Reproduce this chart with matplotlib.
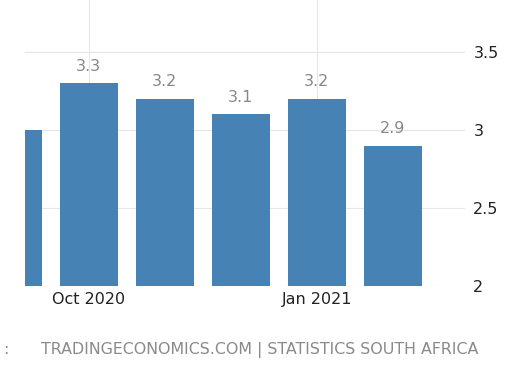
import matplotlib; matplotlib.use('Agg')
import matplotlib.pyplot as plt, numpy as np

BAR = '#4682b4'
months = ['Sep 2020', 'Oct 2020', 'Nov 2020', 'Dec 2020', 'Jan 2021', 'Feb 2021']
values = [3.0, 3.3, 3.2, 3.1, 3.2, 2.9]
tick_labels = {1: 'Oct 2020', 4: 'Jan 2021'}
yticks = [2, 2.5, 3, 3.5]

fig = plt.figure(figsize=(5.19, 3.79), dpi=100)
ax = fig.add_axes([25 / 519, 1 - 286 / 379, 440 / 519, 286 / 379])

x = np.arange(len(values))
ax.bar(x, values, width=0.77, color=BAR, zorder=3)
for xi, v in zip(x, values):
    if xi == 0:
        continue
    ax.text(xi, v + 0.06, f'{v:.1f}', ha='center', va='bottom', fontsize=11.5,
            color='#888888', zorder=4)

ax.set_xlim(0.16, 5.95)
ax.set_ylim(2, 3.833)
ax.set_xticks(list(tick_labels.keys()))
ax.set_xticklabels(list(tick_labels.values()), fontsize=11.5, color='#222222')
ax.set_yticks(yticks)
ax.set_yticklabels(['2', '2.5', '3', '3.5'], fontsize=11.5, color='#222222')
ax.yaxis.tick_right()
ax.tick_params(axis='both', length=0)
ax.tick_params(axis='y', pad=6)
ax.tick_params(axis='x', pad=4)
ax.grid(True, color='#e6e6e6', lw=0.8, zorder=0)
for s in ax.spines.values():
    s.set_visible(False)

# source line (the reference crops "SOURCE" off the left edge)
fig.text(3 / 519, 1 - 350 / 379, ':', ha='left', va='center', fontsize=11.4, color='#8a8a8a')
fig.text(478 / 519, 1 - 350 / 379, 'TRADINGECONOMICS.COM | STATISTICS SOUTH AFRICA',
         ha='right', va='center', fontsize=11.4, color='#8a8a8a')

fig.savefig('out.png', dpi=100)
